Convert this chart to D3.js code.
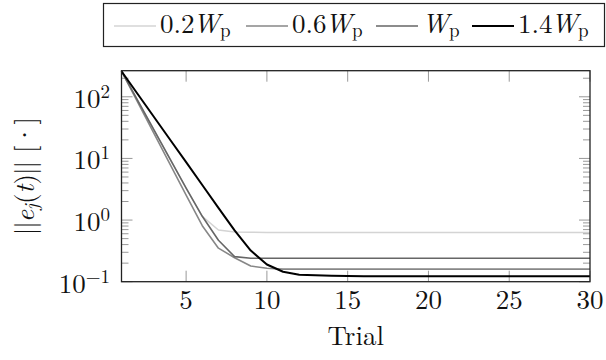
<!DOCTYPE html>
<html>
<head>
<meta charset="utf-8">
<script src="https://cdn.jsdelivr.net/npm/d3@7"></script>
</head>
<body style="margin:0;background:#fff">
<svg id="chart" width="606" height="360"></svg>
<script>
// data
const trials = d3.range(1, 31);
const e02 = [260, 87.3, 29.3, 9.8, 3.3, 1.15, 0.69, 0.64, 0.635, 0.63,
  0.63, 0.63, 0.63, 0.63, 0.63, 0.63, 0.63, 0.63, 0.63, 0.63,
  0.63, 0.63, 0.63, 0.63, 0.63, 0.63, 0.63, 0.63, 0.63, 0.63];
const e06 = [260, 81.7, 25.7, 8.1, 2.55, 0.81, 0.35, 0.245, 0.18, 0.165,
  0.16, 0.16, 0.16, 0.16, 0.16, 0.16, 0.16, 0.16, 0.16, 0.16,
  0.16, 0.16, 0.16, 0.16, 0.16, 0.16, 0.16, 0.16, 0.16, 0.16];
const e10 = [260, 87.3, 29.3, 9.8, 3.3, 1.15, 0.47, 0.255, 0.24, 0.24,
  0.24, 0.24, 0.24, 0.24, 0.24, 0.24, 0.24, 0.24, 0.24, 0.24,
  0.24, 0.24, 0.24, 0.24, 0.24, 0.24, 0.24, 0.24, 0.24, 0.24];
const e14 = [260, 111, 47.5, 20.3, 8.7, 3.7, 1.58, 0.68, 0.32, 0.19,
  0.145, 0.13, 0.127, 0.125, 0.124, 0.123, 0.123, 0.123, 0.123, 0.123,
  0.123, 0.123, 0.123, 0.123, 0.123, 0.123, 0.123, 0.123, 0.123, 0.123];
const legendLabels = ["0.2", "0.6", "", "1.4"];
const xTicks = [5, 10, 15, 20, 25, 30];
const yMajor = [0.1, 1, 10, 100];
const yExp = ["−1", "0", "1", "2"];

const series = [
  { name: legendLabels[0], values: e02, color: "#d4d4d4", width: 1.5 },
  { name: legendLabels[1], values: e06, color: "#878787", width: 1.6 },
  { name: legendLabels[2], values: e10, color: "#666666", width: 1.6 },
  { name: legendLabels[3], values: e14, color: "#000000", width: 2 },
];

const font = '"Latin Modern Roman", "Liberation Serif", serif';
const fs = 27, fsSmall = 19;

const svg = d3.select("#chart");
const plotL = 121.5, plotR = 590, plotT = 70.7, plotB = 281.7;

const x = d3.scaleLinear().domain([1, 30]).range([plotL, plotR]);
const y = d3.scaleLog().domain([0.1, 265]).range([plotB, plotT]);

function label(sel) {
  return sel.append("text").style("font-family", font).attr("font-size", fs).attr("fill", "#111");
}

// minor ticks for log axis
const yMinor = [];
[0.1, 1, 10, 100].forEach(d => {
  for (let k = 2; k <= 9; k++) if (d * k < 265) yMinor.push(d * k);
});

const ticks = svg.append("g").attr("stroke", "#999").attr("stroke-width", 1);

// ticks on all four sides, pointing inward
xTicks.forEach(t => {
  ticks.append("line").attr("x1", x(t)).attr("x2", x(t)).attr("y1", plotB).attr("y2", plotB - 11);
  ticks.append("line").attr("x1", x(t)).attr("x2", x(t)).attr("y1", plotT).attr("y2", plotT + 11);
});
yMajor.forEach(v => {
  ticks.append("line").attr("x1", plotL).attr("x2", plotL + 11).attr("y1", y(v)).attr("y2", y(v));
  ticks.append("line").attr("x1", plotR).attr("x2", plotR - 11).attr("y1", y(v)).attr("y2", y(v));
});
yMinor.forEach(v => {
  ticks.append("line").attr("x1", plotL).attr("x2", plotL + 7).attr("y1", y(v)).attr("y2", y(v));
  ticks.append("line").attr("x1", plotR).attr("x2", plotR - 7).attr("y1", y(v)).attr("y2", y(v));
});

// lines
const line = d3.line().x((d, i) => x(trials[i])).y(d => y(d));
svg.append("g").selectAll("path")
  .data(series)
  .enter()
  .append("path")
  .attr("d", d => line(d.values))
  .attr("fill", "none")
  .attr("stroke", d => d.color)
  .attr("stroke-width", d => d.width)
  .attr("stroke-linejoin", "round");

// frame
svg.append("rect")
  .attr("x", plotL).attr("y", plotT)
  .attr("width", plotR - plotL).attr("height", plotB - plotT)
  .attr("fill", "none").attr("stroke", "#222").attr("stroke-width", 1.3);

// x tick labels
xTicks.forEach(t => {
  label(svg).attr("x", x(t)).attr("y", 309).attr("text-anchor", "middle").text(t);
});

// y tick labels 10^k
yMajor.forEach((v, i) => {
  const t = label(svg).attr("x", 110).attr("y", y(v) + 11).attr("text-anchor", "end");
  t.append("tspan").text("10");
  t.append("tspan").attr("font-size", fsSmall).attr("dy", -10).text(yExp[i]);
});

// axis labels
label(svg).attr("x", (plotL + plotR) / 2).attr("y", 345).attr("text-anchor", "middle").text("Trial");

const yl = label(svg)
  .attr("transform", `translate(33.5,${(plotT + plotB) / 2}) rotate(-90)`)
  .attr("text-anchor", "middle");
yl.append("tspan").attr("letter-spacing", -1).text("||");
yl.append("tspan").attr("font-style", "italic").text("e");
yl.append("tspan").attr("font-style", "italic").attr("font-size", fsSmall).attr("dy", 4).text("j");
yl.append("tspan").attr("dy", -4).text("(");
yl.append("tspan").attr("font-style", "italic").text("t");
yl.append("tspan").attr("letter-spacing", -1).text(")||");
yl.append("tspan").text(" [·]");

// legend
const legend = svg.append("g");
legend.append("rect")
  .attr("x", 103.5).attr("y", 3.5)
  .attr("width", 501).attr("height", 43)
  .attr("fill", "#fff").attr("stroke", "#222").attr("stroke-width", 1.2);

const legendPos = [
  { x1: 114, x2: 156, tx: 160 },
  { x1: 246, x2: 288, tx: 292 },
  { x1: 376, x2: 418, tx: 422 },
  { x1: 472, x2: 514, tx: 518 },
];
series.forEach((s, i) => {
  const p = legendPos[i];
  legend.append("line")
    .attr("x1", p.x1).attr("x2", p.x2).attr("y1", 26).attr("y2", 26)
    .attr("stroke", s.color).attr("stroke-width", s.width);
  const t = label(legend).attr("x", p.tx).attr("y", 33);
  if (s.name) t.append("tspan").text(s.name);
  t.append("tspan").attr("font-style", "italic").attr("dx", s.name ? -1.5 : 0).text("W");
  t.append("tspan").attr("font-size", fsSmall).attr("dy", 4).text("p");
});
</script>
</body>
</html>
